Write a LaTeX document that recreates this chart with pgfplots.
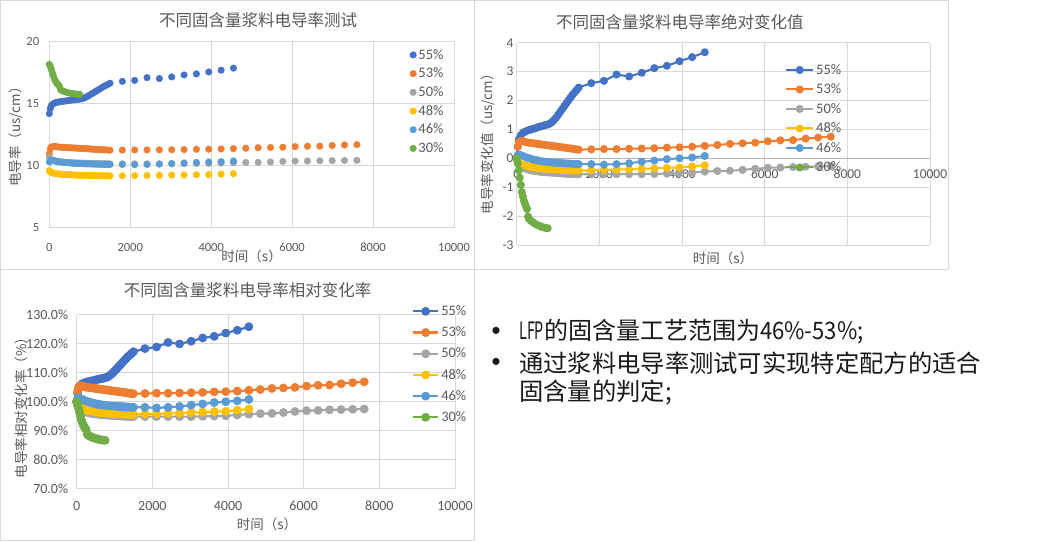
\documentclass[border=0pt]{standalone}
\usepackage{pgfplots}
\pgfplotsset{compat=1.18}
\usepackage{pgfplotstable}
\usepackage{graphicx}
\usepackage{fontspec}
\setmainfont{Carlito}
\newfontfamily\cjk{Noto Sans CJK SC}
\definecolor{c55}{HTML}{4472C4}
\definecolor{c53}{HTML}{ED7D31}
\definecolor{c50}{HTML}{A5A5A5}
\definecolor{c48}{HTML}{FFC000}
\definecolor{c46}{HTML}{5B9BD5}
\definecolor{c30}{HTML}{70AD47}
\definecolor{gridc}{HTML}{D9D9D9}
\definecolor{txt}{HTML}{595959}

\pgfplotstableread{
t v d r
0 14.20 0.00 100.00
25 14.60 0.40 102.82
50 14.85 0.65 104.58
100 15.00 0.80 105.63
150 15.08 0.88 106.20
200 15.12 0.92 106.48
250 15.15 0.95 106.69
300 15.18 0.98 106.90
350 15.20 1.00 107.04
400 15.22 1.02 107.18
450 15.24 1.04 107.32
500 15.27 1.07 107.54
550 15.29 1.09 107.68
600 15.31 1.11 107.82
650 15.33 1.13 107.96
700 15.35 1.15 108.10
750 15.37 1.17 108.24
800 15.40 1.20 108.45
850 15.45 1.25 108.80
900 15.52 1.32 109.30
950 15.60 1.40 109.86
1000 15.70 1.50 110.56
1050 15.80 1.60 111.27
1100 15.90 1.70 111.97
1150 16.00 1.80 112.68
1200 16.10 1.90 113.38
1250 16.20 2.00 114.08
1300 16.30 2.10 114.79
1350 16.40 2.20 115.49
1400 16.48 2.28 116.06
1450 16.56 2.36 116.62
1500 16.65 2.45 117.25
1805 16.80 2.60 118.31
2110 16.88 2.68 118.87
2415 17.10 2.90 120.42
2720 17.03 2.83 119.93
3025 17.16 2.96 120.85
3330 17.32 3.12 121.97
3635 17.40 3.20 122.54
3940 17.56 3.36 123.66
4245 17.70 3.50 124.65
4550 17.87 3.67 125.85
}\Tff

\pgfplotstableread{
t v d r
0 10.95 0.00 100.00
25 11.35 0.40 103.65
50 11.50 0.55 105.02
100 11.55 0.60 105.48
150 11.54 0.59 105.39
200 11.52 0.57 105.21
250 11.50 0.55 105.02
300 11.49 0.54 104.93
350 11.48 0.53 104.84
400 11.47 0.52 104.75
450 11.46 0.51 104.66
500 11.45 0.50 104.57
550 11.44 0.49 104.47
600 11.43 0.48 104.38
650 11.42 0.47 104.29
700 11.41 0.46 104.20
750 11.40 0.45 104.11
800 11.39 0.44 104.02
850 11.38 0.43 103.93
900 11.37 0.42 103.84
950 11.36 0.41 103.74
1000 11.35 0.40 103.65
1050 11.34 0.39 103.56
1100 11.33 0.38 103.47
1150 11.32 0.37 103.38
1200 11.31 0.36 103.29
1250 11.30 0.35 103.20
1300 11.29 0.34 103.11
1350 11.28 0.33 103.01
1400 11.27 0.32 102.92
1450 11.26 0.31 102.83
1500 11.25 0.30 102.74
1805 11.26 0.31 102.83
2110 11.27 0.32 102.92
2415 11.27 0.32 102.92
2720 11.28 0.33 103.01
3025 11.29 0.34 103.11
3330 11.30 0.35 103.20
3635 11.32 0.37 103.38
3940 11.33 0.38 103.47
4245 11.35 0.40 103.65
4550 11.38 0.43 103.93
4855 11.41 0.46 104.20
5160 11.45 0.50 104.57
5465 11.47 0.52 104.75
5770 11.49 0.54 104.93
6075 11.54 0.59 105.39
6380 11.57 0.62 105.66
6685 11.58 0.63 105.75
6990 11.63 0.68 106.21
7295 11.67 0.72 106.58
7600 11.70 0.75 106.85
}\Tft

\pgfplotstableread{
t v d r
0 10.70 0.00 100.00
25 10.55 -0.15 98.60
50 10.48 -0.22 97.94
100 10.42 -0.28 97.38
150 10.38 -0.32 97.01
200 10.35 -0.35 96.73
250 10.32 -0.38 96.45
300 10.30 -0.40 96.26
350 10.28 -0.42 96.07
400 10.27 -0.43 95.98
450 10.26 -0.44 95.89
500 10.25 -0.45 95.79
550 10.24 -0.46 95.70
600 10.23 -0.47 95.61
650 10.22 -0.48 95.51
700 10.22 -0.48 95.51
750 10.21 -0.49 95.42
800 10.21 -0.49 95.42
850 10.20 -0.50 95.33
900 10.20 -0.50 95.33
950 10.19 -0.51 95.23
1000 10.19 -0.51 95.23
1050 10.18 -0.52 95.14
1100 10.18 -0.52 95.14
1150 10.17 -0.53 95.05
1200 10.17 -0.53 95.05
1250 10.16 -0.54 94.95
1300 10.16 -0.54 94.95
1350 10.16 -0.54 94.95
1400 10.15 -0.55 94.86
1450 10.15 -0.55 94.86
1500 10.15 -0.55 94.86
1805 10.15 -0.55 94.86
2110 10.15 -0.55 94.86
2415 10.15 -0.55 94.86
2720 10.15 -0.55 94.86
3025 10.15 -0.55 94.86
3330 10.16 -0.54 94.95
3635 10.17 -0.53 95.05
3940 10.18 -0.52 95.14
4245 10.21 -0.49 95.42
4550 10.24 -0.46 95.70
4855 10.26 -0.44 95.89
5160 10.27 -0.43 95.98
5465 10.30 -0.40 96.26
5770 10.34 -0.36 96.64
6075 10.37 -0.33 96.92
6380 10.38 -0.32 97.01
6685 10.40 -0.30 97.20
6990 10.41 -0.29 97.29
7295 10.42 -0.28 97.38
7600 10.43 -0.27 97.48
}\Tfz

\pgfplotstableread{
t v d r
0 9.60 0.00 100.00
25 9.50 -0.10 98.96
50 9.45 -0.15 98.44
100 9.40 -0.20 97.92
150 9.37 -0.23 97.60
200 9.35 -0.25 97.40
250 9.33 -0.27 97.19
300 9.31 -0.29 96.98
350 9.30 -0.30 96.88
400 9.29 -0.31 96.77
450 9.28 -0.32 96.67
500 9.27 -0.33 96.56
550 9.26 -0.34 96.46
600 9.25 -0.35 96.35
650 9.24 -0.36 96.25
700 9.24 -0.36 96.25
750 9.23 -0.37 96.15
800 9.23 -0.37 96.15
850 9.22 -0.38 96.04
900 9.22 -0.38 96.04
950 9.21 -0.39 95.94
1000 9.21 -0.39 95.94
1050 9.20 -0.40 95.83
1100 9.20 -0.40 95.83
1150 9.20 -0.40 95.83
1200 9.19 -0.41 95.73
1250 9.19 -0.41 95.73
1300 9.19 -0.41 95.73
1350 9.18 -0.42 95.63
1400 9.18 -0.42 95.63
1450 9.18 -0.42 95.63
1500 9.18 -0.42 95.63
1805 9.19 -0.41 95.73
2110 9.20 -0.40 95.83
2415 9.21 -0.39 95.94
2720 9.22 -0.38 96.04
3025 9.24 -0.36 96.25
3330 9.25 -0.35 96.35
3635 9.27 -0.33 96.56
3940 9.28 -0.32 96.67
4245 9.32 -0.28 97.08
4550 9.36 -0.24 97.50
}\Tfe

\pgfplotstableread{
t v d r
0 10.30 0.00 100.00
25 10.42 0.12 101.17
50 10.43 0.13 101.26
100 10.41 0.11 101.07
150 10.38 0.08 100.78
200 10.35 0.05 100.49
250 10.32 0.02 100.19
300 10.30 0.00 100.00
350 10.28 -0.02 99.81
400 10.26 -0.04 99.61
450 10.24 -0.06 99.42
500 10.23 -0.07 99.32
550 10.21 -0.09 99.13
600 10.20 -0.10 99.03
650 10.19 -0.11 98.93
700 10.18 -0.12 98.83
750 10.17 -0.13 98.74
800 10.16 -0.14 98.64
850 10.16 -0.14 98.64
900 10.15 -0.15 98.54
950 10.15 -0.15 98.54
1000 10.14 -0.16 98.45
1050 10.14 -0.16 98.45
1100 10.13 -0.17 98.35
1150 10.13 -0.17 98.35
1200 10.12 -0.18 98.25
1250 10.12 -0.18 98.25
1300 10.11 -0.19 98.16
1350 10.11 -0.19 98.16
1400 10.10 -0.20 98.06
1450 10.10 -0.20 98.06
1500 10.10 -0.20 98.06
1805 10.10 -0.20 98.06
2110 10.08 -0.22 97.86
2415 10.10 -0.20 98.06
2720 10.13 -0.17 98.35
3025 10.18 -0.12 98.83
3330 10.22 -0.08 99.22
3635 10.27 -0.03 99.71
3940 10.30 0.00 100.00
4245 10.33 0.03 100.29
4550 10.38 0.08 100.78
}\Tfs

\pgfplotstableread{
t v d r
0 18.17 0.00 100.00
25 18.00 -0.17 99.06
50 17.75 -0.42 97.69
75 17.50 -0.67 96.31
100 17.25 -0.92 94.94
125 17.00 -1.17 93.56
150 16.85 -1.32 92.74
175 16.70 -1.47 91.91
200 16.60 -1.57 91.36
225 16.50 -1.67 90.81
250 16.42 -1.75 90.37
275 16.15 -2.02 88.88
300 16.07 -2.10 88.44
350 16.00 -2.17 88.06
400 15.95 -2.22 87.78
450 15.90 -2.27 87.51
500 15.86 -2.31 87.29
550 15.83 -2.34 87.12
600 15.80 -2.37 86.96
650 15.78 -2.39 86.85
700 15.76 -2.41 86.74
750 15.75 -2.42 86.68
}\Tth

\pgfplotsset{
  /pgf/number format/assume math mode=true,
  exbase/.style={
    scale only axis, clip=false,
    anchor=south west,
    xmin=0, xmax=10000, xtick={0,2000,4000,6000,8000,10000},
    scaled ticks=false,
    /pgf/number format/set thousands separator={},
    axis line style={draw=none},
    major tick length=0pt,
    grid=major, grid style={gridc, line width=0.8pt},
    tick label style={color=txt},
    title style={font=\cjk\fontsize{16.5}{19}\selectfont, color=txt, anchor=center},
    label style={font=\cjk\fontsize{13.5}{16}\selectfont, color=txt, anchor=center},
    legend cell align=left,
    legend style={draw=none, fill=none, font=\fontsize{14.5}{17}\selectfont, text=txt, anchor=north west},
  },
  lm/.style={color=#1, line width=2pt, mark=*, mark size=3pt, mark options={solid}, line join=round},
  om/.style={color=#1, only marks, mark=*, mark size=3.3pt},
}

\begin{document}
\begin{tikzpicture}
\fill[white] (0,0) rectangle (1049pt,541pt);
\path[use as bounding box] (0,0) rectangle (1049pt,541pt);
\draw[gridc, line width=0.8pt] (0.4pt,272pt) rectangle (474pt,540.6pt);
\draw[gridc, line width=0.8pt] (474pt,272pt) rectangle (948pt,540.6pt);
\draw[gridc, line width=0.8pt] (0.4pt,0.4pt) rectangle (474pt,272pt);

% ---------- Chart 1 ----------
\begin{axis}[exbase,
  at={(49.3pt,313.3pt)}, width=404.7pt, height=186pt,
  ymin=5, ymax=20, ytick={5,10,15,20},
  tick label style={font=\fontsize{12.5}{14}\selectfont},
  xticklabel style={anchor=north, inner sep=0pt, yshift=-15pt},
  yticklabel style={anchor=east, inner sep=0pt, xshift=-10pt},
  title={不同固含量浆料电导率测试},
  title style={at={(axis description cs:0.516,1)}, yshift=15.7pt},
  xlabel={时间（s）},
  xlabel style={at={(axis description cs:0.5,0)}, yshift=-29pt},
  ylabel={电导率（us/cm）},
  ylabel style={at={(axis description cs:-0.082,0.506)}},
  legend image code/.code={\draw[mark repeat=2,mark phase=2,#1] plot coordinates {(0pt,0pt) (4pt,0pt) (11pt,0pt)};},
  legend style={at={(axis description cs:0.883,0.982)}, row sep=3.3pt},
]
\addplot[om=c55] table[x=t,y=v]{\Tff};
\addplot[om=c53] table[x=t,y=v]{\Tft};
\addplot[om=c50] table[x=t,y=v]{\Tfz};
\addplot[om=c48] table[x=t,y=v]{\Tfe};
\addplot[om=c46] table[x=t,y=v]{\Tfs};
\addplot[om=c30] table[x=t,y=v]{\Tth};
\legend{55\%,53\%,50\%,48\%,46\%,30\%}
\end{axis}

% ---------- Chart 2 ----------
\begin{axis}[exbase,
  at={(516.7pt,296pt)}, width=413.3pt, height=202.3pt,
  ymin=-3, ymax=4, ytick={-3,-2,-1,0,1,2,3,4},
  tick label style={font=\fontsize{13.5}{15}\selectfont},
  xticklabel style={anchor=north, inner sep=0pt, yshift=75.5pt},
  yticklabel style={anchor=east, inner sep=0pt, xshift=-3pt},
  extra y ticks={0}, extra y tick labels={},
  extra y tick style={grid=major, grid style={color=black!30, line width=0.9pt}},
  title={不同固含量浆料电导率绝对变化值},
  title style={at={(axis description cs:0.395,1)}, yshift=15pt},
  xlabel={时间（s）},
  xlabel style={at={(axis description cs:0.499,0)}, yshift=-13pt},
  ylabel={电导率变化值（us/cm）},
  ylabel style={at={(axis description cs:-0.0687,0.515)}},
  legend image code/.code={\draw[mark repeat=2,mark phase=2,#1] plot coordinates {(0pt,0pt) (13.5pt,0pt) (27pt,0pt)};},
  legend style={at={(axis description cs:0.642,0.914)}, row sep=4.1pt},
]
\addplot[lm=c55] table[x=t,y=d]{\Tff};
\addplot[lm=c53] table[x=t,y=d]{\Tft};
\addplot[lm=c50] table[x=t,y=d]{\Tfz};
\addplot[lm=c48] table[x=t,y=d]{\Tfe};
\addplot[lm=c46] table[x=t,y=d]{\Tfs};
\addplot[lm=c30] table[x=t,y=d]{\Tth};
\legend{55\%,53\%,50\%,48\%,46\%,30\%}
\end{axis}

% ---------- Chart 3 ----------
\begin{axis}[exbase,
  at={(76.7pt,52.3pt)}, width=378.3pt, height=174pt,
  ymin=70, ymax=130, ytick={70,80,90,100,110,120,130},
  yticklabel={\pgfmathprintnumber[fixed,fixed zerofill,precision=1]{\tick}\%},
  tick label style={font=\fontsize{14}{16}\selectfont},
  xticklabel style={anchor=north, inner sep=0pt, yshift=-12.5pt},
  yticklabel style={anchor=east, inner sep=0pt, xshift=-8.4pt},
  title={不同固含量浆料电导率相对变化率},
  title style={at={(axis description cs:0.4515,1)}, yshift=19pt},
  xlabel={时间（s）},
  xlabel style={at={(axis description cs:0.503,0)}, yshift=-36pt},
  ylabel={电导率相对变化率（\%）},
  ylabel style={at={(axis description cs:-0.1454,0.483)}},
  legend image code/.code={\draw[mark repeat=2,mark phase=2,#1] plot coordinates {(0pt,0pt) (12.5pt,0pt) (25pt,0pt)};},
  legend style={at={(axis description cs:0.878,1.076)}, row sep=5.8pt},
]
\addplot[lm=c55, line width=2.2pt, mark size=3.3pt] table[x=t,y=r]{\Tff};
\addplot[lm=c53, line width=2.2pt, mark size=3.3pt] table[x=t,y=r]{\Tft};
\addplot[lm=c50, line width=2.2pt, mark size=3.3pt] table[x=t,y=r]{\Tfz};
\addplot[lm=c48, line width=2.2pt, mark size=3.3pt] table[x=t,y=r]{\Tfe};
\addplot[lm=c46, line width=2.2pt, mark size=3.3pt] table[x=t,y=r]{\Tfs};
\addplot[lm=c30, line width=2.2pt, mark size=3.3pt] table[x=t,y=r]{\Tth};
\legend{55\%,53\%,50\%,48\%,46\%,30\%}
\end{axis}

% ---------- Bullet text ----------
\begin{scope}[every node/.style={inner sep=0pt, text=black!90}]
\node[anchor=center, font=\fontsize{20}{20}\selectfont] at (496pt,209.3pt) {•};
\node[anchor=west, font=\cjk\fontsize{24}{28}\selectfont] at (519pt,209.3pt) {\scalebox{0.6}[1]{LFP}的固含量工艺范围为\scalebox{0.92}[1]{46\%-53\%;}};
\node[anchor=center, font=\fontsize{20}{20}\selectfont] at (496pt,177.7pt) {•};
\node[anchor=west, font=\cjk\fontsize{24.3}{28}\selectfont] at (519pt,177.7pt) {通过浆料电导率测试可实现特定配方的适合};
\node[anchor=west, font=\cjk\fontsize{24.3}{28}\selectfont] at (519pt,148.7pt) {固含量的判定;};
\end{scope}
\end{tikzpicture}
\end{document}
